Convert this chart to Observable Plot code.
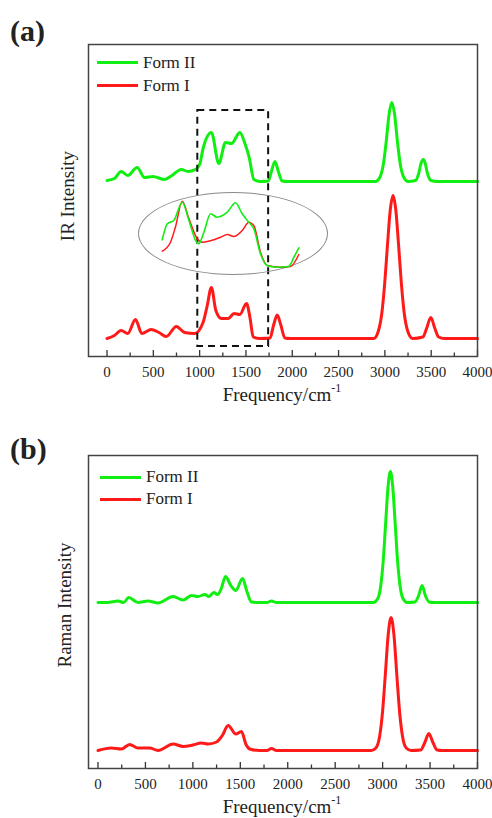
<!DOCTYPE html>
<html>
<head>
<meta charset="utf-8">
<script src="https://cdn.jsdelivr.net/npm/d3@7"></script>
<script src="https://cdn.jsdelivr.net/npm/@observablehq/plot@0.6"></script>
<style>
  html, body { margin: 0; padding: 0; background: #fff; }
  #page { position: relative; width: 492px; height: 818px; overflow: hidden; font-family: "Liberation Serif", "DejaVu Serif", serif; color: #222; }
  .abs { position: absolute; }
  .panel-tag { font-weight: bold; font-size: 30px; line-height: 1; }
  .axis-title { font-size: 19px; line-height: 1; white-space: nowrap; }
  .axis-title sup { font-size: 12px; position: relative; top: -2px; }
  .ylab { font-size: 19px; line-height: 1; white-space: nowrap; transform: translate(-50%, -50%) rotate(-90deg); }
  .legend { font-size: 17px; }
  .legend .row { display: flex; align-items: center; height: 22px; }
  .legend .sw { width: 41px; height: 3px; margin-right: 5px; }
  .ellipse { border: 1.3px solid #8a8a8a; border-radius: 50%; box-sizing: border-box; }
</style>
</head>
<body>
<div id="page"></div>
<script>
// ---------------- data ----------------
const seriesNames = ["Form II", "Form I"];
const seriesColors = ["#11ee11", "#ff1a1a"];

const majorTicks = [0, 500, 1000, 1500, 2000, 2500, 3000, 3500, 4000];
const minorTicks = [250, 750, 1250, 1750, 2250, 2750, 3250, 3750];

// IR, Form II (offset trace), [wavenumber, intensity]
const irFormII = [[0,176],[80,178],[152,185],[224,181],[325,189],[405,179],[495,180],[622,177],[700,181],[802,187],[874,185],[954,187],[1000,192],[1037,208],[1127,224],[1207,193],[1279,214],[1344,213],[1434,224],[1489,213],[1535,199],[1586,177],[1650,175],[1740,175.5],[1775,185],[1813,195],[1850,185],[1890,175.5],[1950,175],[2900,175],[2945,179],[2985,193],[3015,215.5],[3045,242],[3075,254],[3105,242],[3135,215.5],[3165,193],[3205,179],[3250,175],[3330,176],[3365,183],[3390,193],[3413,197],[3436,193],[3460,183],[3500,176],[3560,175],[4000,175]];
// IR, Form I
const irFormI = [[0,18],[80,21],[152,26],[224,23],[307,37],[376,23],[477,27],[560,24],[640,20],[748,30],[838,24],[946,23],[1037,34],[1080,50],[1127,69],[1175,46],[1235,38],[1308,38],[1372,43],[1434,42],[1506,53],[1545,38],[1578,19.5],[1650,18],[1760,18.5],[1800,32],[1838,41.5],[1875,32],[1920,18.5],[1980,18],[2880,18],[2928,25],[2968,44],[2998,73],[3028,111.5],[3058,146.5],[3088,161],[3118,146.5],[3148,111.5],[3178,73],[3208,44],[3248,25],[3300,18],[3410,19.5],[3450,28],[3496,39],[3540,28],[3580,19.5],[3640,18],[4000,18]];

// IR inset (zoom of 1000-1800 cm-1 region)
const insetFormII = [[1013,34.7],[1042,50.7],[1079,54],[1127,72.3],[1165,54],[1203,34],[1221,30.7],[1250,42.3],[1288,60.7],[1326,57.3],[1383,62.3],[1430,71.7],[1468,60.7],[1506,52.3],[1534,45.7],[1572,20.7],[1610,9],[1667,7.3],[1733,8],[1762,17.3],[1790,26.7]];
const insetFormI = [[1013,23.3],[1060,32.3],[1088,47.3],[1127,73.3],[1165,55.7],[1212,35.7],[1241,32.3],[1307,34.7],[1345,37.3],[1383,40],[1421,38],[1468,44],[1506,52.3],[1534,49],[1572,22.3],[1610,9],[1686,7.3],[1743,8],[1790,20]];

// highlighted region in IR panel: wavenumbers and intensity extent
const zoomBoxX = [980, 1745];
const zoomBoxY = [10, 246];

// Raman, Form II
const ramanFormII = [[0,166],[100,166],[211,167.5],[270,166],[324,171],[422,166],[528,167.5],[633,165.5],[792,172],[897,168.5],[985,173],[1055,172],[1126,174],[1168,172],[1221,176],[1259,174],[1300,180],[1344,192],[1400,183],[1453,178],[1523,190],[1570,177],[1618,166.5],[1700,166],[1780,166],[1829,167.5],[1880,166],[2900,166],[2952,170.5],[2982,184],[3007,208.5],[3032,245.5],[3057,281.5],[3082,297],[3107,281.5],[3132,245.5],[3157,208.5],[3182,184],[3212,170.5],[3260,166],[3340,166.5],[3380,173],[3416,183],[3450,173],[3490,166.5],[3540,166],[4000,166]];
// Raman, Form I
const ramanFormI = [[0,18],[141,20.5],[246,19.5],[334,24],[422,20.5],[545,20.5],[633,18],[792,24.5],[897,22],[1000,23.5],[1090,25.5],[1160,24.5],[1249,26.5],[1310,33],[1372,43],[1453,34.5],[1512,37],[1560,24],[1600,19.5],[1700,18],[1780,18],[1829,20],[1880,18],[2880,18],[2929,20.5],[2969,32.5],[2999,56.5],[3029,94.5],[3059,134],[3089,151],[3119,134],[3149,94.5],[3179,56.5],[3209,32.5],[3249,20.5],[3300,18],[3400,18.5],[3445,26],[3487,35],[3530,26],[3575,18.5],[3630,18],[4000,18]];

// ---------------- drawing ----------------
const page = document.getElementById("page");
const FONT = '"Liberation Serif", "DejaVu Serif", serif';

function panel({top, height, mt, mb, xDomain, yDomain, series, box}) {
  const innerH = height - mt - mb;
  const marks = [];
  series.forEach((s, i) => {
    marks.push(Plot.line(s, {x: d => d[0], y: d => d[1], stroke: seriesColors[i], strokeWidth: 3, curve: "monotone-x"}));
  });
  if (box) {
    marks.push(Plot.rect([box], {x1: d => d.x[0], x2: d => d.x[1], y1: d => d.y[0], y2: d => d.y[1], fill: "none", stroke: "#111", strokeWidth: 2, strokeDasharray: "7,5"}));
  }
  marks.push(Plot.ruleX(majorTicks, {x: d => d, insetTop: innerH - 6, stroke: "#333", strokeWidth: 1.3}));
  marks.push(Plot.ruleX(minorTicks, {x: d => d, insetTop: innerH - 3.5, stroke: "#333", strokeWidth: 1.3}));
  marks.push(Plot.frame({stroke: "#444", strokeWidth: 1.5}));
  const svg = Plot.plot({
    width: 492, height,
    marginLeft: 88, marginRight: 15, marginTop: mt, marginBottom: mb,
    x: {domain: xDomain, ticks: majorTicks, tickFormat: "d", tickSize: 0, tickPadding: 10, label: null},
    y: {domain: yDomain, axis: null},
    style: {fontFamily: FONT, fontSize: "15px", color: "#222", background: "transparent", overflow: "visible"},
    marks
  });
  svg.style.position = "absolute";
  svg.style.left = "0px";
  svg.style.top = top + "px";
  page.appendChild(svg);
}

// Panel (a) IR
panel({top: 0, height: 410, mt: 44, mb: 54, xDomain: [-200, 4000], yDomain: [0, 312],
       series: [irFormII, irFormI], box: {x: zoomBoxX, y: zoomBoxY}});
// Panel (b) Raman
panel({top: 410, height: 408, mt: 45, mb: 50, xDomain: [-100, 4000], yDomain: [0, 313],
       series: [ramanFormII, ramanFormI]});

// Inset ellipse + zoomed curves
const ell = document.createElement("div");
ell.className = "abs ellipse";
Object.assign(ell.style, {left: "138px", top: "192px", width: "190px", height: "83px"});
page.appendChild(ell);
const inset = Plot.plot({
  width: 190, height: 82, margin: 0,
  x: {domain: [878, 1959], axis: null},
  y: {domain: [0, 82], axis: null},
  style: {background: "transparent", overflow: "visible"},
  marks: [
    Plot.line(insetFormI, {x: d => d[0], y: d => d[1], stroke: seriesColors[1], strokeWidth: 1.5, curve: "monotone-x"}),
    Plot.line(insetFormII, {x: d => d[0], y: d => d[1], stroke: seriesColors[0], strokeWidth: 1.6, curve: "monotone-x"})
  ]
});
Object.assign(inset.style, {position: "absolute", left: "138px", top: "192px"});
page.appendChild(inset);

// Text overlays
function addText(html, cls, style) {
  const d = document.createElement("div");
  d.className = "abs " + cls;
  d.innerHTML = html;
  Object.assign(d.style, style);
  page.appendChild(d);
  return d;
}
addText("(a)", "panel-tag", {left: "10px", top: "16px"});
addText("(b)", "panel-tag", {left: "10px", top: "434px"});
addText("Frequency/cm<sup>-1</sup>", "axis-title", {left: "282px", top: "384px", transform: "translateX(-50%)"});
addText("Frequency/cm<sup>-1</sup>", "axis-title", {left: "282px", top: "796px", transform: "translateX(-50%)"});
addText("IR Intensity", "ylab", {left: "67px", top: "196px"});
addText("Raman Intensity", "ylab", {left: "64px", top: "605px"});

function legend(left, top, rowH) {
  const d = document.createElement("div");
  d.className = "abs legend";
  Object.assign(d.style, {left: left + "px", top: top + "px"});
  seriesNames.forEach((n, i) => {
    const r = document.createElement("div");
    r.className = "row";
    r.style.height = rowH + "px";
    r.innerHTML = `<span class="sw" style="background:${seriesColors[i]}"></span><span>${n}</span>`;
    d.appendChild(r);
  });
  page.appendChild(d);
}
legend(97, 51, 23);
legend(100, 466, 22);
</script>
</body>
</html>
